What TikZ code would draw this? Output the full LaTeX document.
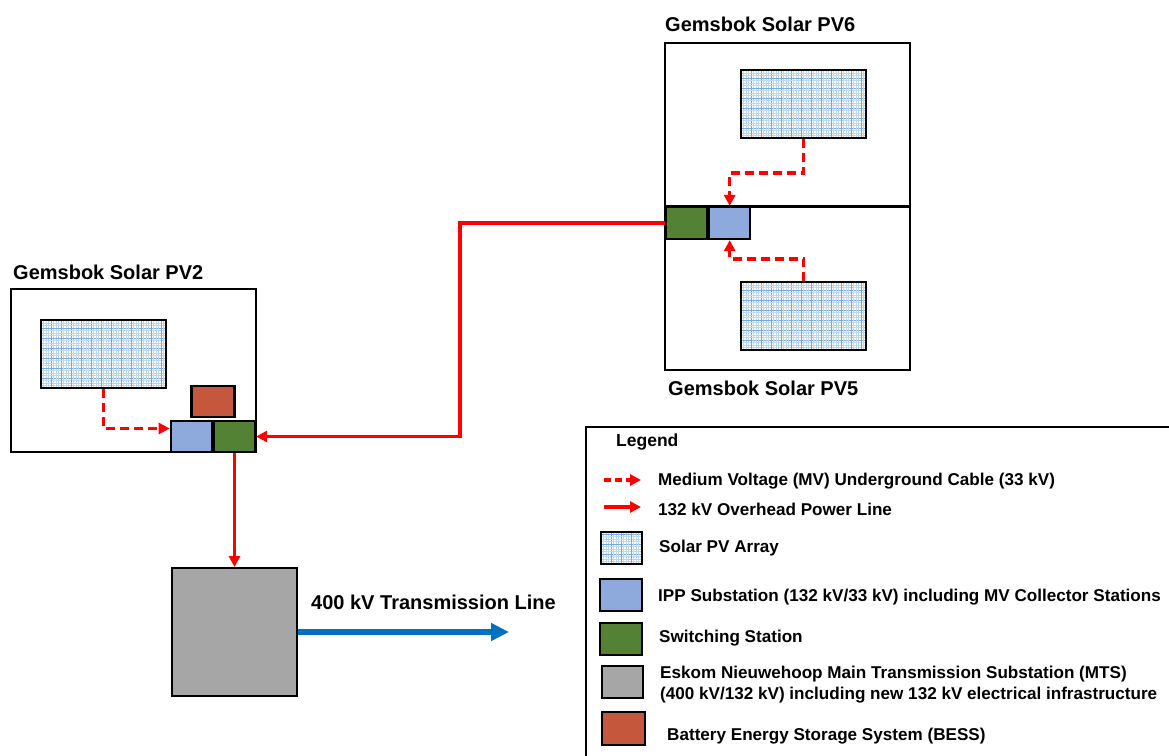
\documentclass[tikz,border=0pt]{standalone}
\usepackage{fontspec}
\setmainfont{Liberation Sans}
\usetikzlibrary{arrows.meta,positioning}
\definecolor{PVBlue}{RGB}{91,155,213}
\definecolor{IPPBlue}{RGB}{142,169,219}
\definecolor{SwitchGreen}{RGB}{84,130,53}
\definecolor{BessRed}{RGB}{197,88,60}
\definecolor{MtsGray}{RGB}{166,166,166}
\definecolor{LineBlue}{RGB}{0,112,192}
\tikzset{
  sitebox/.style={draw=black, line width=2pt, inner sep=0pt,
                  minimum width=245pt, minimum height=163pt},
  unitbox/.style={draw=black, line width=2.2pt, inner sep=0pt,
                  minimum width=41pt, minimum height=31pt},
  pvarray/.style={draw=black, line width=2.2pt, fill=white, inner sep=0pt,
    path picture={
      \foreach \i in {1,...,52}{
        \pgfmathtruncatemacro\gridtint{mod(\i,4)==0 ? 85 : 40}
        \draw[PVBlue!\gridtint, line width=0.6pt]
          ([xshift=\i*2.5pt]path picture bounding box.south west) --
          ([xshift=\i*2.5pt]path picture bounding box.north west);
        \draw[PVBlue!\gridtint, line width=0.6pt]
          ([yshift=\i*2.5pt]path picture bounding box.south west) --
          ([yshift=\i*2.5pt]path picture bounding box.south east);
      }}},
  sitelabel/.style={font=\fontsize{20}{24}\selectfont\bfseries, inner sep=0pt, anchor=west},
  legtext/.style={font=\fontsize{17.1}{21}\selectfont\bfseries, inner sep=0pt, anchor=west, align=left},
  mvcable/.style={draw=red, line width=3.3pt, dash pattern=on 9pt off 5pt,
                  -{Triangle[length=11pt, width=11pt]}},
  hvline/.style={draw=red, line width=3.2pt, -{Triangle[length=11pt, width=11pt]}},
  txline/.style={draw=LineBlue, line width=6pt, -{Triangle[length=18pt, width=17pt]}}
}
\begin{document}
\begin{tikzpicture}[x=1pt, y=-1pt]
  \useasboundingbox (0,0) rectangle (1169,755);

  % sites
  \node[sitebox] (pv2box) at (133,370.5) {};
  \node[sitebox] (pv6box) at (787,124) {};
  \node[sitebox] (pv5box) at (787,288) {};
  \node[sitelabel] (pv2lbl) at (13,272) {Gemsbok Solar PV2};
  \node[sitelabel] (pv6lbl) at (665,24) {Gemsbok Solar PV6};
  \node[sitelabel] (pv5lbl) at (668,388) {Gemsbok Solar PV5};

  % solar arrays
  \node[pvarray, minimum width=125pt, minimum height=68pt] (pv2arr) at (103.5,354) {};
  \node[pvarray, minimum width=125pt, minimum height=68pt] (pv6arr) at (803.5,104) {};
  \node[pvarray, minimum width=125pt, minimum height=68pt] (pv5arr) at (803.5,316) {};

  % substations
  \node[unitbox, fill=SwitchGreen] (pv2sw) at (234.5,436.5) {};
  \node[unitbox, fill=IPPBlue, left=0pt of pv2sw] (pv2ipp) {};
  \node[unitbox, fill=BessRed, minimum width=43pt, anchor=south, yshift=2pt] (bess) at (pv2ipp.north east) {};
  \node[unitbox, fill=SwitchGreen, minimum height=32pt] (pv56sw) at (686.5,223) {};
  \node[unitbox, fill=IPPBlue, minimum height=32pt, right=0pt of pv56sw] (pv56ipp) {};
  \node[draw=black, line width=2pt, fill=MtsGray, inner sep=0pt,
        minimum width=125pt, minimum height=128pt] (mts) at (234.5,632) {};
  \coordinate (txend) at (509,632);
  \node[font=\fontsize{20}{24}\selectfont\bfseries, inner sep=0pt, anchor=west] (txlbl) at (311,602) {400 kV Transmission Line};

  % connections
  \path[mvcable] (pv2arr.south) |- ([yshift=8pt]pv2ipp.west);
  \path[mvcable] (pv6arr.south) -- ++(0,34) -| (pv56ipp.north);
  \path[mvcable] (pv5arr.north) -- ++(0,-22) -| (pv56ipp.south);
  \path[hvline] (pv56sw.west) -- ++(-205,0) |- (pv2sw.east);
  \path[hvline] (pv2sw.south) -- (mts.north);
  \path[txline] (mts.east) -- (txend);

  % legend
  \draw[line width=2pt] (1180,427) -- (586,427) -- (586,770);
  \node[font=\fontsize{17.5}{21}\selectfont\bfseries, inner sep=0pt, anchor=west] (leglbl) at (616,442) {Legend};
  \coordinate (legmva) at (604,480);
  \coordinate (legmvb) at (641,480);
  \coordinate (leghva) at (604,507);
  \coordinate (leghvb) at (641,507);
  \path[mvcable, dash pattern=on 7pt off 4pt] (legmva) -- (legmvb);
  \path[hvline] (leghva) -- (leghvb);
  \node[legtext] (legmv) at (658,481) {Medium Voltage (MV) Underground Cable (33 kV)};
  \node[legtext] (leghv) at (658,509) {132 kV Overhead Power Line};
  \node[pvarray, minimum width=41pt, minimum height=32pt] (legpv) at (621.5,548) {};
  \node[legtext] at (659,548) {Solar PV Array};
  \node[unitbox, fill=IPPBlue, minimum width=42pt, minimum height=32pt] (legipp) at (621,595) {};
  \node[legtext] at (658,597) {IPP Substation (132 kV/33 kV) including MV Collector Stations};
  \node[unitbox, fill=SwitchGreen, minimum width=42pt, minimum height=32pt] (legsw) at (621,639) {};
  \node[legtext] at (659,638) {Switching Station};
  \node[unitbox, fill=MtsGray, minimum width=41pt, minimum height=32pt] (legmts) at (622.5,682) {};
  \node[legtext] at (660,684.5) {Eskom Nieuwehoop Main Transmission Substation (MTS)\\(400 kV/132 kV) including new 132 kV electrical infrastructure};
  \node[unitbox, fill=BessRed, minimum width=43pt, minimum height=33pt] (legbess) at (623.5,728.5) {};
  \node[legtext] at (667,736) {Battery Energy Storage System (BESS)};
\end{tikzpicture}
\end{document}
